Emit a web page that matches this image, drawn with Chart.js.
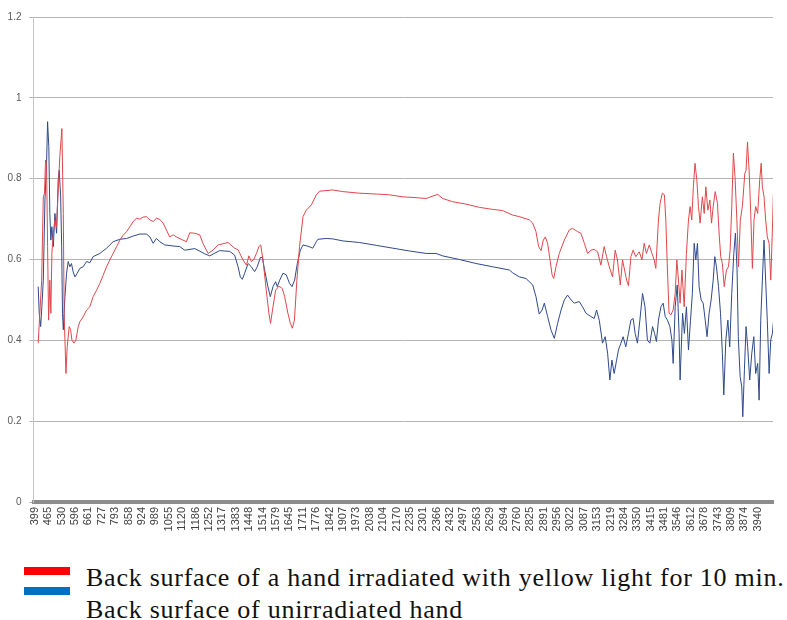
<!DOCTYPE html>
<html>
  <head>
    <title>Spectrum</title>
    <script src="https://cdn.jsdelivr.net/npm/chart.js"></script>
    <style>
      body { margin: 0; background: #fff; }
      #wrap { position: relative; width: 787px; height: 620px; overflow: hidden; }
      #grafico { display: block; }
      .sw { position: absolute; left: 24px; width: 46px; height: 8px; }
      .txt {
        position: absolute;
        left: 86px;
        font-family: "Liberation Serif", serif;
        font-size: 26px;
        line-height: 30px;
        letter-spacing: 0.75px;
        color: #111;
        white-space: nowrap;
      }
    </style>
  </head>

  <body>
    <div id="wrap">
      <canvas id="grafico" width="787" height="550"></canvas>
      <div class="sw" style="top: 567px; background: #ff0000"></div>
      <div class="sw" style="top: 587px; background: #0070c0"></div>
      <div class="txt" style="top: 563px">Back surface of a hand irradiated with yellow light for 10 min.</div>
      <div class="txt" style="top: 595px">Back surface of unirradiated hand</div>
    </div>

    <script>
      // tick labels shown on the category axis (wavenumber)
      var rotulos = [
        399, 465, 530, 596, 661, 727, 793, 858, 924, 989, 1055, 1120, 1186, 1252, 1317, 1383, 1448, 1514,
        1579, 1645, 1711, 1776, 1842, 1907, 1973, 2038, 2104, 2170, 2235, 2301, 2366, 2432, 2497, 2563,
        2629, 2694, 2760, 2825, 2891, 2956, 3022, 3087, 3153, 3219, 3284, 3350, 3415, 3481, 3546, 3612,
        3678, 3743, 3809, 3874, 3940
      ];

      // irradiated hand (red)
      var irradX = [
        415, 423, 432, 440, 446, 451, 456, 461, 466, 472, 477, 482, 489, 497, 505, 513, 521, 531, 538, 542,
        551, 557, 567, 574, 580, 590, 600, 611, 619, 635, 652, 668, 684, 701, 717, 733, 750, 766, 782, 799,
        815, 831, 848, 864, 880, 897, 913, 929, 945, 962, 978, 994, 1011, 1027, 1043, 1059, 1076, 1092,
        1124, 1141, 1157, 1182, 1206, 1222, 1247, 1271, 1296, 1345, 1377, 1394, 1418, 1435, 1447, 1459,
        1470, 1484, 1496, 1505, 1516, 1532, 1545, 1553, 1565, 1578, 1594, 1611, 1622, 1638, 1650, 1660,
        1670, 1682, 1695, 1712, 1728, 1753, 1777, 1793, 1858, 1907, 1989, 2071, 2136, 2201, 2266, 2315,
        2348, 2372, 2396, 2445, 2511, 2576, 2641, 2690, 2739, 2772, 2821, 2837, 2853, 2866, 2878, 2889,
        2899, 2910, 2922, 2932, 2940, 2951, 2967, 2992, 3016, 3032, 3057, 3073, 3090, 3106, 3122, 3138,
        3155, 3171, 3187, 3199, 3212, 3228, 3241, 3252, 3266, 3277, 3287, 3297, 3306, 3318, 3329, 3342,
        3359, 3372, 3383, 3394, 3408, 3421, 3432, 3440, 3453, 3461, 3472, 3482, 3489, 3497, 3505, 3514,
        3525, 3535, 3543, 3551, 3559, 3568, 3579, 3590, 3600, 3608, 3616, 3624, 3632, 3641, 3649, 3657,
        3668, 3677, 3685, 3695, 3705, 3713, 3721, 3731, 3742, 3750, 3758, 3766, 3775, 3786, 3796, 3804,
        3812, 3820, 3828, 3837, 3845, 3854, 3864, 3876, 3882, 3889, 3897, 3905, 3913, 3921, 3929, 3939,
        3949, 3956, 3962, 3970, 3978, 3986, 3995, 4003, 4011, 4016
      ];
      var irradY = [
        0.393, 0.467, 0.549, 0.755, 0.764, 0.846, 0.838, 0.632, 0.45, 0.549, 0.467, 0.615, 0.665, 0.698,
        0.681, 0.772, 0.855, 0.924, 0.714, 0.467, 0.318, 0.384, 0.434, 0.426, 0.401, 0.393, 0.401, 0.434,
        0.446, 0.458, 0.475, 0.483, 0.508, 0.524, 0.541, 0.561, 0.582, 0.599, 0.615, 0.632, 0.648, 0.66,
        0.669, 0.681, 0.694, 0.702, 0.7, 0.705, 0.706, 0.698, 0.694, 0.702, 0.699, 0.69, 0.673, 0.656,
        0.661, 0.656, 0.648, 0.644, 0.666, 0.665, 0.661, 0.64, 0.615, 0.623, 0.636, 0.642, 0.628, 0.624,
        0.599, 0.586, 0.609, 0.595, 0.599, 0.615, 0.632, 0.636, 0.599, 0.524, 0.467, 0.442, 0.483, 0.524,
        0.534, 0.528, 0.508, 0.467, 0.442, 0.43, 0.45, 0.549, 0.632, 0.706, 0.722, 0.735, 0.76, 0.769,
        0.772, 0.768, 0.764, 0.762, 0.76, 0.755, 0.753, 0.751, 0.757, 0.761, 0.751, 0.743, 0.737, 0.729,
        0.724, 0.721, 0.71, 0.706, 0.698, 0.69, 0.669, 0.632, 0.622, 0.648, 0.656, 0.64, 0.599, 0.562,
        0.553, 0.582, 0.615, 0.648, 0.673, 0.677, 0.669, 0.665, 0.64, 0.615, 0.623, 0.625, 0.619, 0.586,
        0.632, 0.607, 0.582, 0.557, 0.623, 0.599, 0.537, 0.599, 0.574, 0.549, 0.535, 0.607, 0.623, 0.607,
        0.619, 0.599, 0.64, 0.615, 0.636, 0.615, 0.599, 0.578, 0.698, 0.739, 0.764, 0.76, 0.698, 0.574,
        0.467, 0.463, 0.475, 0.516, 0.599, 0.549, 0.492, 0.574, 0.483, 0.615, 0.698, 0.731, 0.698, 0.78,
        0.838, 0.797, 0.731, 0.69, 0.755, 0.714, 0.78, 0.722, 0.747, 0.69, 0.731, 0.768, 0.739, 0.665,
        0.607, 0.59, 0.533, 0.574, 0.582, 0.623, 0.731, 0.863, 0.805, 0.698, 0.582, 0.698, 0.731, 0.813,
        0.821, 0.891, 0.821, 0.714, 0.578, 0.698, 0.731, 0.714, 0.797, 0.838, 0.78, 0.755, 0.698, 0.656,
        0.64, 0.549, 0.673, 0.764
      ];

      // unirradiated hand (blue)
      var controleX = [
        415, 420, 427, 433, 440, 448, 456, 461, 467, 472, 477, 482, 489, 497, 505, 513, 518, 525, 530, 534,
        538, 546, 554, 562, 570, 578, 586, 595, 606, 619, 635, 652, 668, 684, 717, 750, 782, 815, 848, 880,
        913, 945, 962, 978, 994, 1011, 1035, 1084, 1108, 1133, 1182, 1231, 1255, 1304, 1353, 1377, 1394,
        1405, 1415, 1426, 1443, 1459, 1475, 1488, 1503, 1513, 1524, 1540, 1552, 1565, 1578, 1586, 1598,
        1614, 1630, 1646, 1658, 1671, 1684, 1699, 1712, 1736, 1760, 1777, 1785, 1826, 1858, 1907, 1989,
        2071, 2152, 2234, 2315, 2364, 2396, 2478, 2560, 2641, 2723, 2739, 2772, 2804, 2837, 2853, 2869,
        2883, 2894, 2910, 2927, 2943, 2959, 2976, 2992, 3008, 3025, 3041, 3065, 3081, 3098, 3122, 3138,
        3150, 3163, 3179, 3192, 3204, 3215, 3225, 3236, 3248, 3257, 3269, 3280, 3293, 3306, 3318, 3329,
        3339, 3350, 3362, 3375, 3387, 3399, 3411, 3424, 3434, 3443, 3453, 3465, 3476, 3486, 3497, 3509,
        3519, 3525, 3535, 3545, 3554, 3559, 3571, 3580, 3590, 3600, 3610, 3619, 3628, 3636, 3644, 3652,
        3662, 3672, 3682, 3691, 3701, 3711, 3721, 3729, 3737, 3747, 3757, 3766, 3773, 3783, 3793, 3802,
        3812, 3822, 3830, 3838, 3844, 3853, 3861, 3866, 3874, 3882, 3890, 3900, 3910, 3920, 3929, 3939,
        3946, 3954, 3962, 3970, 3978, 3986, 3995, 4003, 4011, 4016
      ];
      var controleY = [
        0.533, 0.467, 0.434, 0.483, 0.549, 0.747, 0.838, 0.941, 0.879, 0.714, 0.648, 0.681, 0.632, 0.714,
        0.665, 0.797, 0.821, 0.755, 0.632, 0.467, 0.426, 0.508, 0.566, 0.595, 0.582, 0.59, 0.57, 0.557,
        0.566, 0.578, 0.582, 0.595, 0.592, 0.607, 0.615, 0.628, 0.644, 0.65, 0.652, 0.658, 0.663, 0.663,
        0.656, 0.64, 0.652, 0.644, 0.636, 0.633, 0.632, 0.623, 0.627, 0.614, 0.609, 0.622, 0.62, 0.611,
        0.582, 0.557, 0.551, 0.566, 0.59, 0.582, 0.57, 0.582, 0.605, 0.605, 0.574, 0.533, 0.508, 0.533,
        0.545, 0.533, 0.549, 0.566, 0.562, 0.541, 0.533, 0.549, 0.59, 0.623, 0.636, 0.633, 0.628, 0.644,
        0.65, 0.652, 0.651, 0.646, 0.642, 0.635, 0.628, 0.621, 0.615, 0.615, 0.609, 0.6, 0.59, 0.582,
        0.574, 0.567, 0.557, 0.553, 0.537, 0.508, 0.465, 0.475, 0.492, 0.459, 0.425, 0.405, 0.442, 0.475,
        0.5, 0.512, 0.5, 0.492, 0.496, 0.483, 0.467, 0.459, 0.454, 0.475, 0.45, 0.393, 0.409, 0.368,
        0.302, 0.351, 0.318, 0.351, 0.376, 0.393, 0.409, 0.384, 0.417, 0.45, 0.454, 0.417, 0.393, 0.45,
        0.516, 0.483, 0.4, 0.393, 0.434, 0.417, 0.397, 0.45, 0.483, 0.492, 0.459, 0.45, 0.434, 0.4, 0.343,
        0.483, 0.537, 0.417, 0.302, 0.467, 0.417, 0.483, 0.376, 0.45, 0.516, 0.64, 0.599, 0.64, 0.533,
        0.5, 0.492, 0.45, 0.409, 0.467, 0.5, 0.549, 0.607, 0.582, 0.533, 0.467, 0.368, 0.265, 0.401,
        0.45, 0.384, 0.516, 0.615, 0.665, 0.574, 0.409, 0.31, 0.285, 0.211, 0.327, 0.434, 0.384, 0.302,
        0.368, 0.409, 0.318, 0.343, 0.252, 0.45, 0.549, 0.648, 0.549, 0.45, 0.318, 0.401, 0.417, 0.446
      ];

      function pontos(xs, ys) {
        return xs.map((x, i) => ({ x: x, y: ys[i] }));
      }

      var grafico = new Chart(document.getElementById("grafico").getContext("2d"), {
        type: "line",
        data: {
          datasets: [
            {
              label: "Back surface of a hand irradiated with yellow light for 10 min.",
              data: pontos(irradX, irradY),
              borderColor: "#e0474c",
              borderWidth: 1,
              pointRadius: 0,
              tension: 0,
            },
            {
              label: "Back surface of unirradiated hand",
              data: pontos(controleX, controleY),
              borderColor: "#2f4a8a",
              borderWidth: 1,
              pointRadius: 0,
              tension: 0,
            },
          ],
        },
        options: {
          responsive: false,
          animation: false,
          events: [],
          layout: { padding: { top: 17, right: 14, left: 0, bottom: 0 } },
          plugins: { legend: { display: false }, tooltip: { enabled: false } },
          scales: {
            x: {
              type: "linear",
              min: 392,
              max: 4014,
              afterBuildTicks: (scale) => {
                scale.ticks = rotulos.map((v) => ({ value: v }));
              },
              afterFit: (scale) => {
                scale.height = 48;
              },
              grid: { display: false, drawTicks: false },
              border: { display: true, color: "#8c8c8c", width: 4 },
              ticks: {
                autoSkip: false,
                maxRotation: 90,
                minRotation: 90,
                padding: 5,
                color: "#404040",
                font: { family: "Liberation Sans", size: 11 },
                callback: (v) => String(v),
              },
            },
            y: {
              min: 0,
              max: 1.2,
              afterFit: (scale) => {
                scale.width = 33.5;
              },
              grid: { color: "#b4b4b4", lineWidth: 1, tickLength: 4 },
              border: { color: "#c4c4c4", width: 1 },
              ticks: {
                stepSize: 0.2,
                padding: 8,
                color: "#595959",
                font: { family: "Liberation Sans", size: 10 },
                callback: (v) => String(Math.round(v * 10) / 10),
              },
            },
          },
        },
      });
    </script>
  </body>
</html>
